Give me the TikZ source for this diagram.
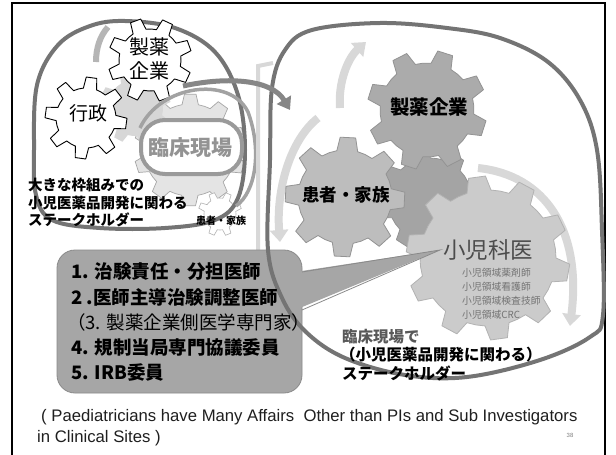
\documentclass[tikz,border=0pt]{standalone}
\usepackage{fontspec}
\setmainfont{Liberation Sans}
\newfontfamily\jp{Noto Sans CJK JP}
\usetikzlibrary{arrows.meta}
\definecolor{blobgray}{HTML}{747474}
\definecolor{ringgray}{HTML}{A2A2A2}
\definecolor{lightband}{HTML}{D8D8D8}
\definecolor{gearA}{HTML}{ABABAB}
\definecolor{gearB}{HTML}{BDBDBD}
\definecolor{gearC}{HTML}{A4A4A4}
\definecolor{gearD}{HTML}{CBCBCB}
\definecolor{gearL}{HTML}{E4E4E4}
\definecolor{callfill}{HTML}{A6A6A6}
\definecolor{calldraw}{HTML}{8A8A8A}
\newcommand{\gearpath}[4]{(#4:#2) \foreach \k in {1,...,#1}{ -- ({#4+(\k-1+0.12)*360/#1}:#3) -- ({#4+(\k-1+0.45)*360/#1}:#3) -- ({#4+(\k-1+0.57)*360/#1}:#2) -- ({#4+(\k-1+0.785)*360/#1}:#2) -- ({#4+\k*360/#1}:#2)} -- cycle}
\begin{document}
\begin{tikzpicture}[x=1pt,y=-1pt,
  blob/.style={draw=blobgray, line width=4pt, line join=round},
  whitegear/.style={draw=black, line width=0.9pt, fill=white, line join=round},
  faintgear/.style={draw=gray!70, line width=0.7pt, fill=gearL, line join=round},
  greygear/.style={draw=gray!85, line width=0.8pt, line join=round},
  lightarrow/.style={draw=lightband, line width=8pt, -{Triangle[width=18pt,length=12pt]}},
  jptext/.style={inner sep=0pt, font=\jp},
  lbl/.style={inner sep=0pt, anchor=west}]
\useasboundingbox (0,0) rectangle (616,455);
\fill[white] (0,0) rectangle (616,455);
% frame
\draw[line width=1.4pt] (12,455) -- (12,3) -- (605,3) -- (605,455);

% ---------------- left group ----------------
\draw[faintgear, shift={(190,150)}] \gearpath{10}{46}{56}{8};
\fill[gearB!60, shift={(135,108)}] \gearpath{8}{28}{36}{15};
\draw[draw=gray!60, fill=white, line width=0.6pt, shift={(220,214)}] \gearpath{8}{16}{22}{10};
\draw[ringgray!80, line width=6pt] (96,62) .. controls (96,48) and (100,36) .. (108,27);
\draw[blob] plot[smooth cycle, tension=0.6] coordinates {(34,150) (37,85) (58,45) (90,26) (125,21) (175,28) (215,52) (238,95) (245,150) (238,198) (215,220) (165,228) (100,228) (52,220) (36,195)};
\draw[whitegear, shift={(86,118)}] \gearpath{8}{30}{41}{-5};
\draw[whitegear, shift={(150,60)}] \gearpath{8}{31}{42}{12};
\draw[ringgray, line width=3.5pt] (140,128) .. controls (160,85) and (230,75) .. (248,112) .. controls (262,150) and (256,192) .. (236,206);
\draw[draw=ringgray!95!black, line width=4pt, fill=white, rounded corners=24pt] (141,120) rectangle (242,174);

% ---------------- right group ----------------
\draw[draw=lightband, line width=4pt] (258,250) -- (258,66) -- (273,63);
\draw[lightarrow] (340,108) .. controls (338,82) and (348,58) .. (366,42);
\draw[lightarrow] (318,118) .. controls (290,140) and (276,190) .. (280,242);
\draw[lightarrow] (478,168) .. controls (545,175) and (582,230) .. (570,326);
\draw[greygear, fill=gearC, shift={(430,200)}] \gearpath{8}{42}{52}{20};
\draw[greygear, fill=gearB, shift={(345,197)}] \gearpath{8}{47}{60}{-10};
\draw[greygear, fill=gearA, shift={(427,110)}] \gearpath{8}{47}{60}{5};
\draw[draw=gray!60, line width=0.8pt, line join=round, fill=gearD, shift={(488,258)}] \gearpath{10}{68}{82}{0};

% callout
\draw[draw=calldraw, fill=callfill, line width=0.8pt, rounded corners=18pt] (57,250) rectangle (302,393);
\fill[callfill] (295,272) -- (440,250) -- (295,310) -- cycle;
\draw[calldraw, line width=0.8pt] (302,272) -- (440,250) -- (302,310);

\draw[blob] plot[smooth cycle, tension=0.6] coordinates {(270,160) (272,88) (285,50) (312,30) (380,23) (447,28) (500,38) (548,62) (580,100) (597,150) (602,230) (603,315) (590,337) (540,360) (467,377) (405,375) (345,358) (306,332) (282,298) (268,250)};

% hook arrow
\draw[draw=gray!95, line width=5pt, -{Triangle[width=16pt,length=12pt]}] (183,86) .. controls (230,76) and (272,80) .. (290,110);

% ---------------- texts ----------------
\node[jptext, font=\jp\fontsize{20}{20}\selectfont] (lseiyaku) at (149,47) {製薬};
\node[jptext, font=\jp\fontsize{20}{20}\selectfont] (lkigyo) at (149,71) {企業};
\node[jptext, font=\jp\fontsize{19}{19}\selectfont] (gyosei) at (88,113) {行政};
\node[jptext, font=\jp\bfseries\fontsize{21}{21}\selectfont, text=gray!85] (rinsho) at (190,148) {臨床現場};
\node[jptext, font=\jp\fontsize{10}{10}\selectfont\bfseries] (lkanja) at (221,221) {患者・家族};
\node[lbl, font=\jp\bfseries\fontsize{14.5}{14.5}\selectfont] (lcap1) at (28,185) {大きな枠組みでの};
\node[lbl, font=\jp\bfseries\fontsize{14.5}{14.5}\selectfont] (lcap2) at (28,203) {小児医薬品開発に関わる};
\node[lbl, font=\jp\bfseries\fontsize{14.5}{14.5}\selectfont] (lcap3) at (28,220) {ステークホルダー};

\node[jptext, font=\jp\bfseries\fontsize{19.5}{19.5}\selectfont] (rseiyaku) at (429,107) {製薬企業};
\node[jptext, font=\jp\bfseries\fontsize{17.5}{17.5}\selectfont] (rkanja) at (346,195) {患者・家族};
\node[jptext, font=\jp\fontsize{22.5}{22.5}\selectfont, text=black!70] (shonika) at (488,250) {小児科医};
\node[lbl, font=\jp\fontsize{9.8}{9.8}\selectfont, text=black!55] (sub1) at (462,273) {小児領域薬剤師};
\node[lbl, font=\jp\fontsize{9.8}{9.8}\selectfont, text=black!55] (sub2) at (462,287) {小児領域看護師};
\node[lbl, font=\jp\fontsize{9.8}{9.8}\selectfont, text=black!55] (sub3) at (462,301) {小児領域検査技師};
\node[lbl, font=\jp\fontsize{9.8}{9.8}\selectfont, text=black!55] (sub4) at (462,315) {小児領域CRC};

\node[lbl, font=\jp\bfseries\fontsize{15.5}{15.5}\selectfont, text=black!65] (rcap1) at (342,337) {臨床現場で};
\node[lbl, font=\jp\bfseries\fontsize{15.5}{15.5}\selectfont] (rcap2) at (340,355) {（小児医薬品開発に関わる）};
\node[lbl, font=\jp\bfseries\fontsize{15.5}{15.5}\selectfont] (rcap3) at (342,373) {ステークホルダー};

\node[lbl, font=\jp\bfseries\fontsize{18.5}{18.5}\selectfont] (item1) at (71,272) {1. 治験責任・分担医師};
\node[lbl, font=\jp\bfseries\fontsize{18.5}{18.5}\selectfont] (item2) at (71,297) {2 .医師主導治験調整医師};
\node[lbl, font=\jp\fontsize{18.5}{18.5}\selectfont] (item3) at (67,322) {（3. 製薬企業側医学専門家）};
\node[lbl, font=\jp\bfseries\fontsize{18.5}{18.5}\selectfont] (item4) at (71,347) {4. 規制当局専門協議委員};
\node[lbl, font=\jp\bfseries\fontsize{18.5}{18.5}\selectfont] (item5) at (71,372) {5. IRB委員};

\node[lbl, font=\fontsize{16.7}{16.7}\selectfont, text=black!88] (eng1) at (41,417) {( Paediatricians have Many Affairs\ \ Other than PIs and Sub Investigators};
\node[lbl, font=\fontsize{16.7}{16.7}\selectfont, text=black!88] (eng2) at (37,438) {in Clinical Sites )};
\node[jptext, font=\fontsize{6}{6}\selectfont, text=gray] (pageno) at (570,435) {38};
\end{tikzpicture}
\end{document}
